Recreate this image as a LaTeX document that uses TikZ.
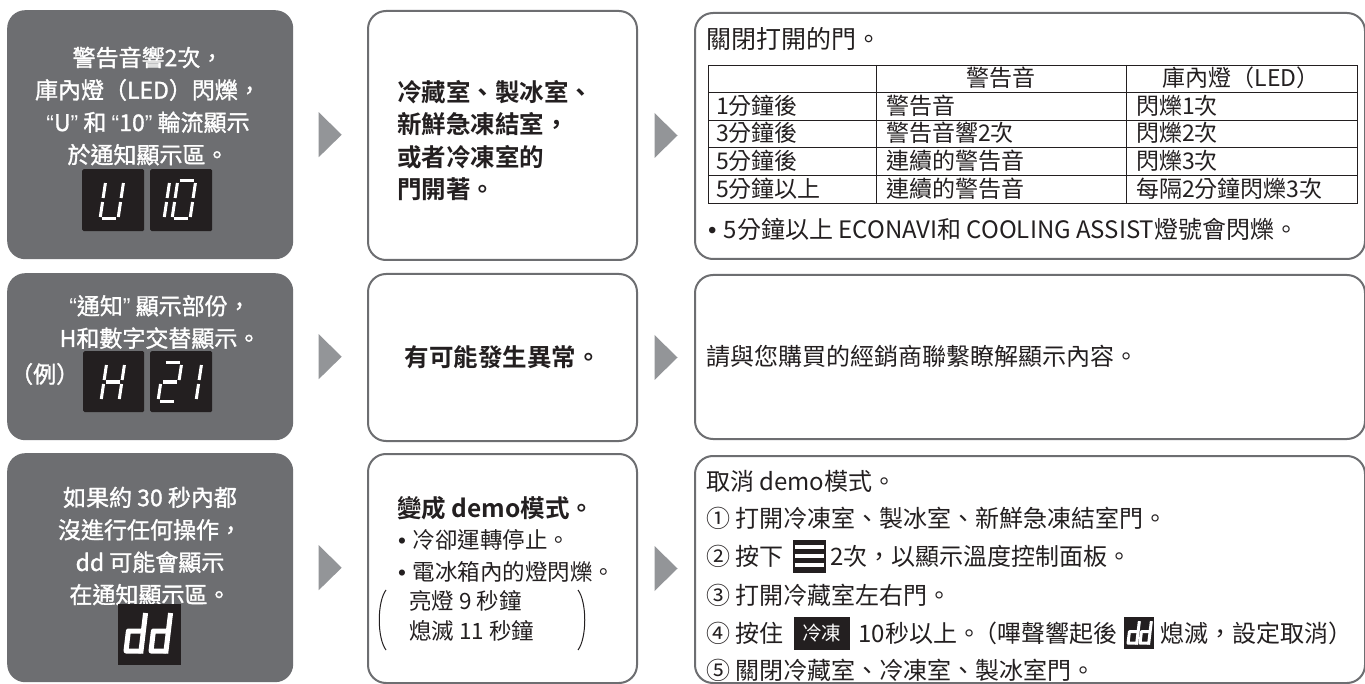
\documentclass[tikz,border=0pt]{standalone}
\usepackage{fontspec}
\setmainfont{Noto Sans CJK TC}[BoldFont={Noto Sans CJK TC Bold}]
\newfontfamily\medfont[FakeBold=1.3]{Noto Sans CJK TC}
\newfontfamily\latf{Liberation Sans}
\newcommand\bul{{\latf •}\hspace{0.3em}}
\newcommand\oq{{\latf “}}
\newcommand\cq{{\latf ”}}
\usetikzlibrary{calc}
\definecolor{dkgray}{RGB}{109,110,113}
\definecolor{trigray}{RGB}{147,149,152}
\definecolor{ink}{RGB}{35,31,32}
\newcommand\segA{\draw[seg] (2,38)--(16,38);}
\newcommand\segB{\draw[seg] (18,36)--(18,21);}
\newcommand\segC{\draw[seg] (18,17)--(18,2);}
\newcommand\segD{\draw[seg] (2,0)--(16,0);}
\newcommand\segE{\draw[seg] (0,17)--(0,2);}
\newcommand\segF{\draw[seg] (0,36)--(0,21);}
\newcommand\segG{\draw[seg] (2,19)--(16,19);}
\newcommand\digitat[3]{\begin{scope}[shift={(#1,#2)},yscale=-1,xslant=-0.15]#3\end{scope}}
\newcommand\dglyph[3]{\begin{scope}[shift={#1},scale=#2,yscale=-1,xslant=-0.12]
  \draw[white,line width=#3,line join=round] (15,20)--(0,20)--(0,0)--(15,0);
  \draw[white,line width=#3] (15,-2.5)--(15,38);\end{scope}}
\begin{document}
\begin{tikzpicture}[x=1pt,y=-1pt,
  darkbox/.style={rectangle,fill=dkgray,rounded corners=18pt,inner sep=0pt,anchor=north west},
  whitebox/.style={rectangle,draw=dkgray,line width=2pt,rounded corners=18pt,inner sep=0pt,anchor=north west},
  disp/.style={rectangle,fill=ink,rounded corners=1.5pt,inner sep=0pt,anchor=north west,minimum width=62pt,minimum height=62pt},
  seg/.style={white,line width=3pt},
  tri/.style={fill=trigray},
  wtxt/.style={text=white,font=\medfont\fontsize{23}{32.4}\selectfont,align=center,inner sep=0pt},
  btxt/.style={text=ink,font=\bfseries\fontsize{24.5}{32.5}\selectfont,align=left,inner sep=0pt,anchor=west},
  rtxt/.style={text=ink,font=\fontsize{24}{28}\selectfont,inner sep=0pt,anchor=west},
  ttxt/.style={text=ink,font=\fontsize{23}{26}\selectfont,inner sep=0pt,anchor=west,yshift=0.8pt},
  mtxt/.style={text=ink,font=\fontsize{22.5}{26}\selectfont,inner sep=0pt,anchor=west},
  ctxt/.style={text=ink,font=\fontsize{23}{26}\selectfont,inner sep=0pt,yshift=0.8pt},
  tbl/.style={ink,line width=0.9pt}]
\useasboundingbox (0,0) rectangle (1365,684);
\fill[white] (0,0) rectangle (1365,684);
% ---------- boxes
\node[darkbox,minimum width=286pt,minimum height=249pt] (D1) at (7,10) {};
\node[whitebox,minimum width=269pt,minimum height=249pt] (W1) at (367,10) {};
\node[whitebox,minimum width=670pt,minimum height=246pt] (R1) at (694,12) {};
\node[darkbox,minimum width=286pt,minimum height=167pt] (D2) at (7,273) {};
\node[whitebox,minimum width=269pt,minimum height=167pt] (W2) at (367,273) {};
\node[whitebox,minimum width=670pt,minimum height=164pt] (R2) at (694,274) {};
\node[darkbox,minimum width=286pt,minimum height=229pt] (D3) at (7,453) {};
\node[whitebox,minimum width=269pt,minimum height=229pt] (W3) at (367,453) {};
\node[whitebox,minimum width=670pt,minimum height=227pt] (R3) at (694,455) {};
% ---------- flow triangles
\foreach \a/\b [count=\i] in {D1/W1,D2/W2,D3/W3,W1/R1,W2/R2,W3/R3}{
  \coordinate (t\i) at ($(\a.east)!0.5!(\a.east -| \b.west)$);
  \fill[tri] ($(t\i)+(-11.5,-22.5)$) -- ($(t\i)+(11.5,0)$) -- ($(t\i)+(-11.5,22.5)$) -- cycle;
}
% ---------- row 1
\node[wtxt] (D1t) at (148,106) {警告音響2次，\\庫內燈（LED）閃爍，\\\oq U\cq\ 和 \oq 10\cq\ 輪流顯示\\於通知顯示區。};
\node[disp] (U1) at (82,169) {};
\node[disp] (U2) at (150,169) {};
\digitat{100}{219}{\segB\segC\segD\segE\segF}
\digitat{146}{219}{\segB\segC}
\digitat{172}{219}{\segA\segB\segC\segD\segE\segF}
\node[btxt] (W1t) at (397,140.5) {冷藏室、製冰室、\\新鮮急凍結室，\\或者冷凍室的\\門開著。};
\node[rtxt,font=\fontsize{25}{28}\selectfont] (R1t) at (706,39) {關閉打開的門。};
\draw[tbl] (708,65) rectangle (1357,203);
\foreach \y in {92.6,120.2,147.8,175.4} \draw[tbl] (708,\y) -- (1357,\y);
\draw[tbl] (876,65) -- (876,203) (1126,65) -- (1126,203);
\node[ctxt] (h2) at (1001,78.8) {警告音};
\node[ctxt] (h3) at (1241,78.8) {庫內燈（LED）};
\foreach \y/\a/\b/\c [count=\i] in {106.4/1分鐘後/警告音/閃爍1次,134/3分鐘後/警告音響2次/閃爍2次,161.6/5分鐘後/連續的警告音/閃爍3次,189.2/5分鐘以上/連續的警告音/每隔2分鐘閃爍3次}{
  \node[ttxt] (ca\i) at (716,\y) {\a};
  \node[ttxt] (cb\i) at (886,\y) {\b};
  \node[ttxt] (cc\i) at (1136,\y) {\c};
}
\node[rtxt] (R1b) at (708,229) {\bul 5分鐘以上 ECONAVI和 COOLING ASSIST燈號會閃爍。};
% ---------- row 2
\node[wtxt] (D2t) at (160,322) {\oq 通知\cq\ 顯示部份，\\H和數字交替顯示。};
\node[wtxt,anchor=west] (D2e) at (10,374) {（例）};
\node[disp,minimum height=61pt,minimum width=61pt] (H1) at (83,351) {};
\node[disp,minimum height=61pt,minimum width=62pt] (H2) at (150,351) {};
\digitat{101}{401}{\segB\segC\segE\segF\segG}
\digitat{158}{401}{\segA\segB\segG\segE\segD}
\digitat{178}{401}{\segB\segC}
\node[btxt,anchor=center] (W2t) at (W2.center) {有可能發生異常。};
\node[rtxt] (R2t) at (706,356) {請與您購買的經銷商聯繫瞭解顯示內容。};
% ---------- row 3
\node[wtxt] (D3t) at (150,546) {如果約 30 秒內都\\沒進行任何操作，\\dd 可能會顯示\\在通知顯示區。};
\node[disp,minimum width=63pt,minimum height=61pt,rounded corners=0pt] (dd) at (118,604) {};
\dglyph{(126,651)}{1}{5pt}
\dglyph{(151,651)}{1}{5pt}
\node[btxt] (W3t) at (397,508) {變成 demo模式。};
\node[mtxt] (W3a) at (398,540) {\bul 冷卻運轉停止。};
\node[mtxt] (W3b) at (398,572) {\bul 電冰箱內的燈閃爍。};
\node[mtxt] (W3c) at (409,601) {亮燈 9 秒鐘};
\node[mtxt] (W3d) at (409,631) {熄滅 11 秒鐘};
\draw[ink,line width=1pt] (386,590) .. controls (377,602) and (377,638) .. (386,650);
\draw[ink,line width=1pt] (578,590) .. controls (587,602) and (587,638) .. (578,650);
\node[rtxt] (R3a) at (706,481) {取消 demo模式。};
\node[rtxt] (R3b) at (706,518) {① 打開冷凍室、製冰室、新鮮急凍結室門。};
\node[rtxt] (R3c) at (706,556) {② 按下};
\node[rectangle,fill=ink,inner sep=0pt,minimum width=33pt,minimum height=33pt,anchor=west] (menu) at ($(R3c.east)+(9,0)$) {};
\foreach \d in {-9,0,9} \draw[white,line width=3.5pt] ($(menu.west)+(2,\d)$) -- ($(menu.east)+(-2,\d)$);
\node[rtxt] (R3c2) at ($(menu.east)+(4,0)$) {2次，以顯示溫度控制面板。};
\node[rtxt] (R3d) at (706,595) {③ 打開冷藏室左右門。};
\node[rtxt] (R3e) at (706,633) {④ 按住};
\node[rectangle,fill=ink,text=white,inner sep=0pt,minimum width=56pt,minimum height=33pt,anchor=west,font=\fontsize{19.5}{20}\selectfont] (lk) at ($(R3e.east)+(10,0)$) {冷凍};
\node[rtxt] (R3e2) at ($(lk.east)+(8,0)$) {10秒以上。\kern-0.3em（嗶聲響起後};
\node[rectangle,fill=ink,inner sep=0pt,minimum width=30pt,minimum height=32pt,anchor=west] (dds) at ($(R3e2.east)+(6,0)$) {};
\dglyph{($(dds.south west)+(4,-6)$)}{0.58}{3pt}
\dglyph{($(dds.south west)+(16,-6)$)}{0.58}{3pt}
\node[rtxt] (R3e3) at ($(dds.east)+(6,0)$) {熄滅，設定取消）};
\node[rtxt] (R3f) at (706,670) {⑤ 關閉冷藏室、冷凍室、製冰室門。};
\end{tikzpicture}
\end{document}
